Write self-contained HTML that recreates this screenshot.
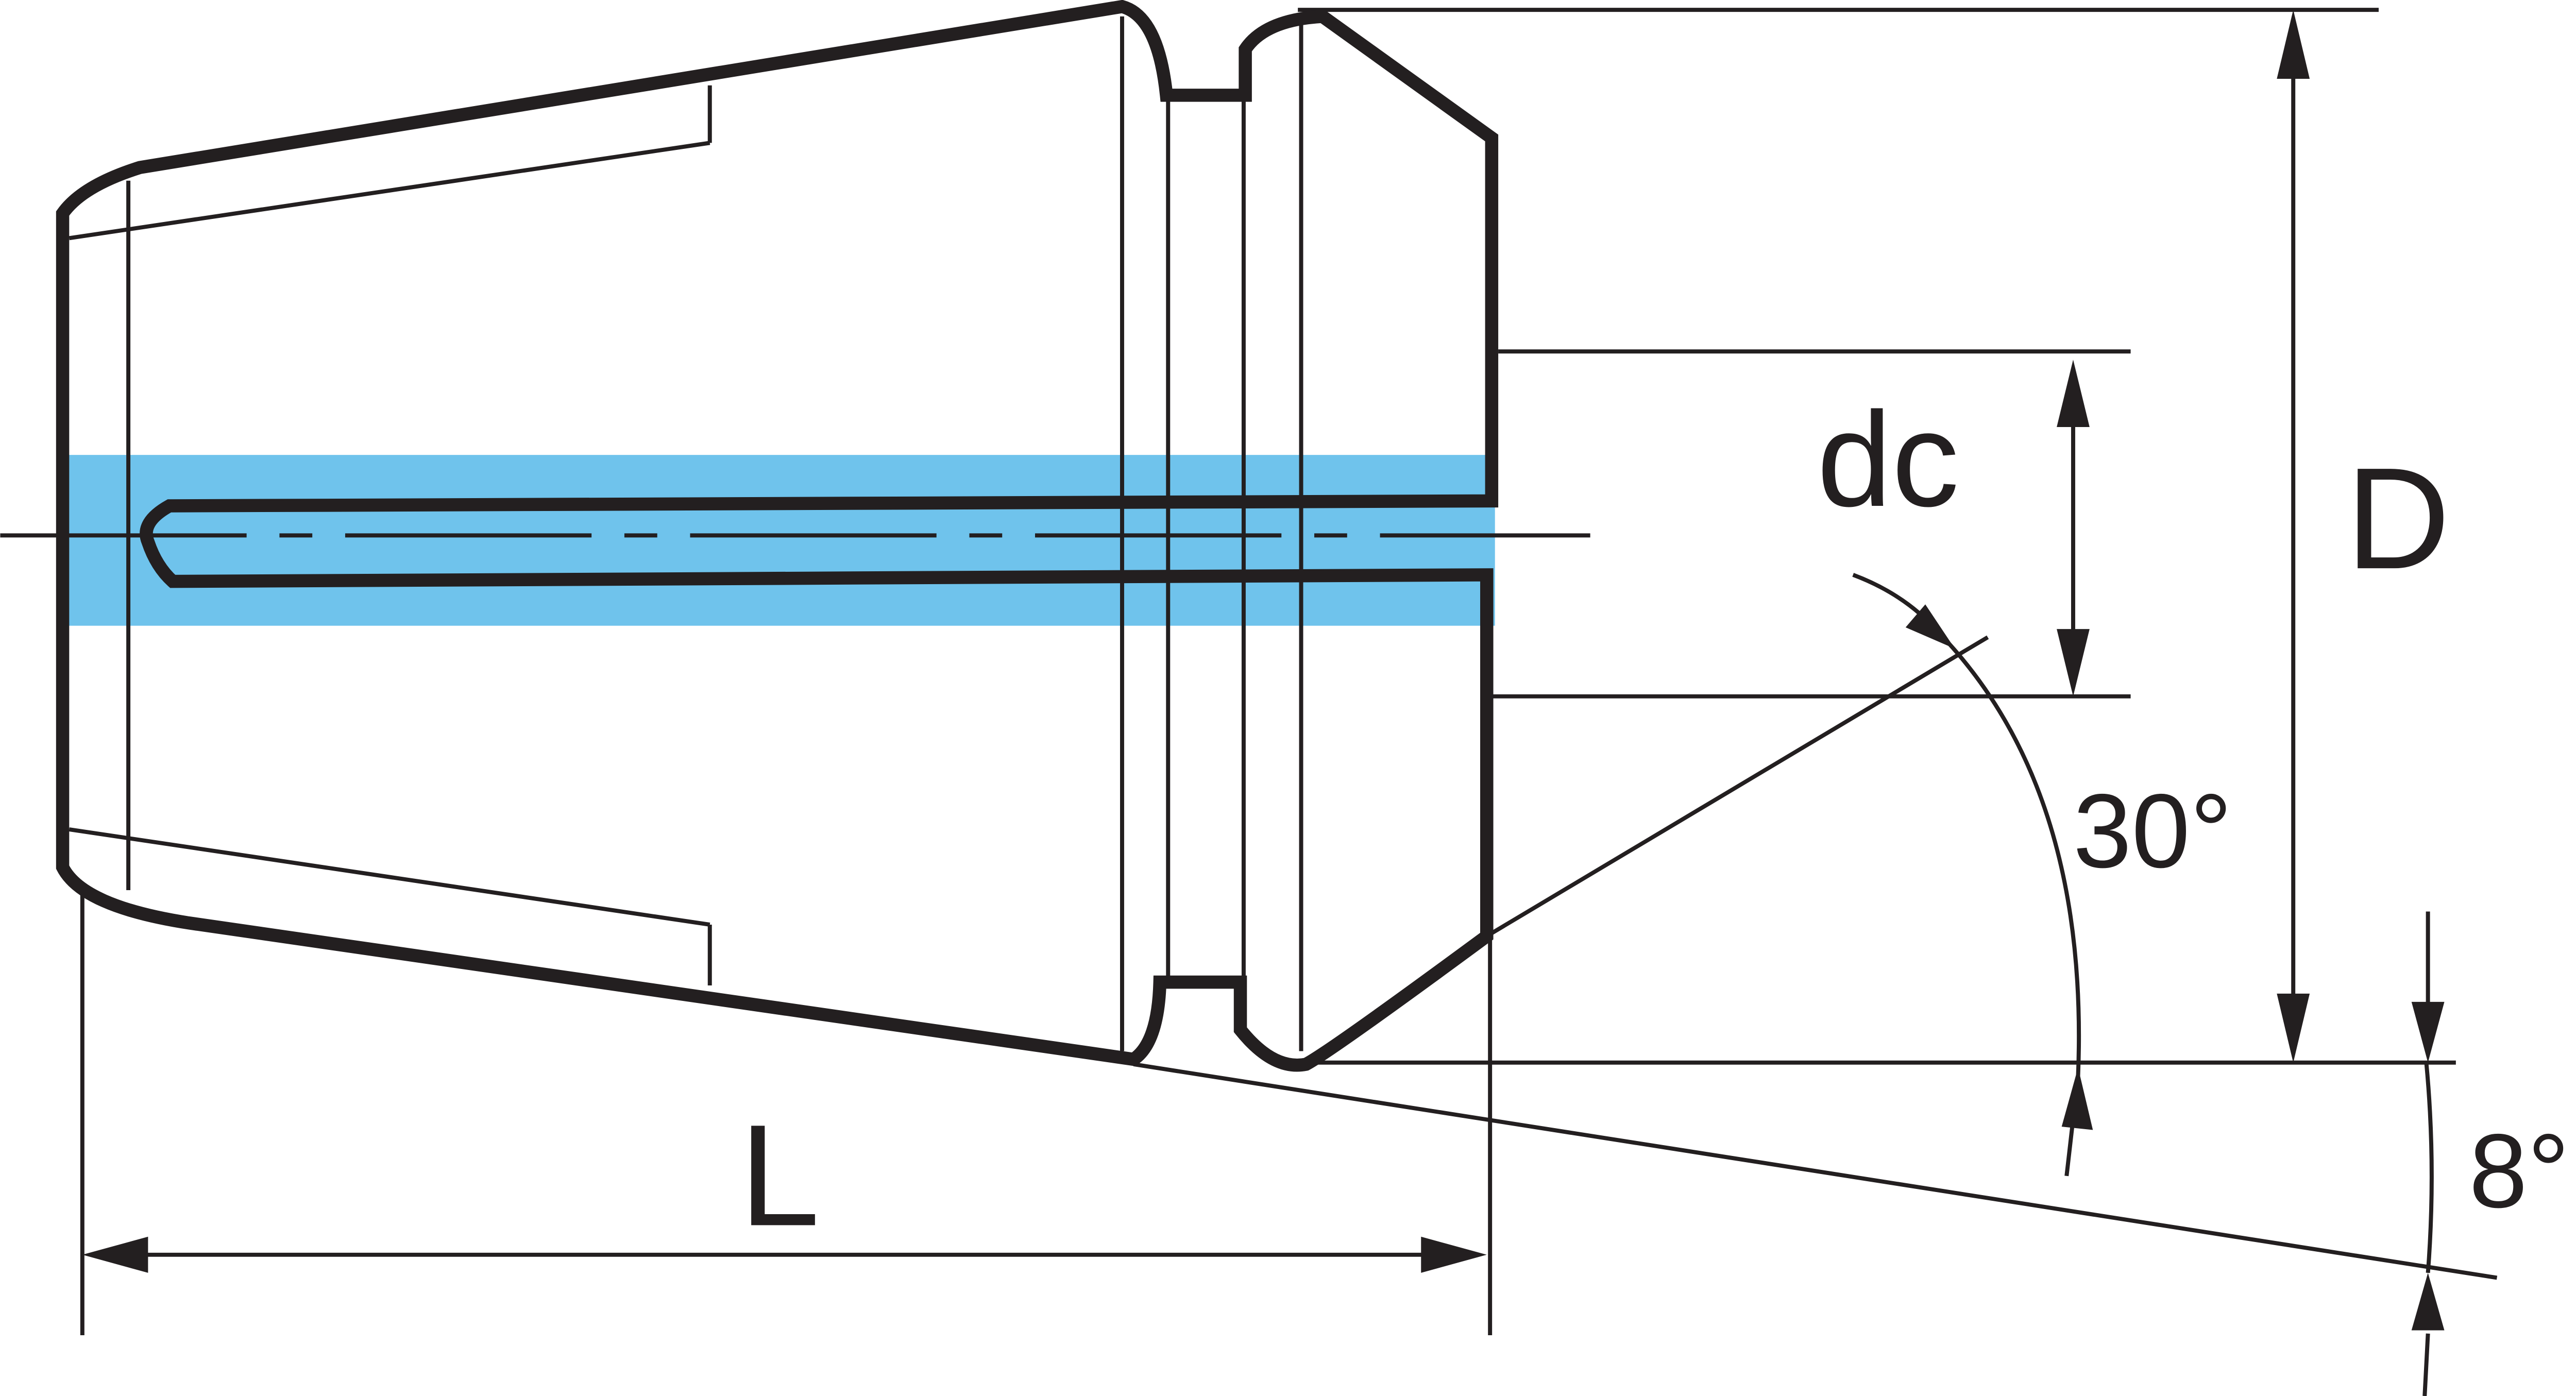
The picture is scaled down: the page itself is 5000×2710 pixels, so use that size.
<!DOCTYPE html>
<html><head><meta charset="utf-8"><style>
html,body{margin:0;padding:0;background:#fff;}
svg{display:block;}
</style></head><body>
<svg width="5000" height="2710" viewBox="0 0 1568 850" xmlns="http://www.w3.org/2000/svg">
<rect width="1568" height="850" fill="#fff"/>
<rect x="38" y="277" width="872" height="104" fill="#6fc3ec"/>
<g stroke="#231f20" stroke-width="2.5" fill="none">
<line x1="42" y1="145" x2="432" y2="87"/>
<line x1="432" y1="52" x2="432" y2="87"/>
<line x1="78" y1="110" x2="78" y2="542"/>
<line x1="42" y1="505" x2="432" y2="563"/>
<line x1="432" y1="563" x2="432" y2="600"/>
<line x1="683" y1="10" x2="683" y2="640"/>
<line x1="711" y1="60" x2="711" y2="595"/>
<line x1="757" y1="60" x2="757" y2="595"/>
<line x1="792" y1="10" x2="792" y2="640"/>
<line x1="790" y1="6" x2="1448" y2="6"/>
<line x1="912" y1="214" x2="1297" y2="214"/>
<line x1="908" y1="424" x2="1297" y2="424"/>
<line x1="800" y1="647" x2="1495" y2="647"/>
<line x1="0" y1="326" x2="968" y2="326" stroke-dasharray="150,20,20,20"/>
<line x1="690" y1="648" x2="1520" y2="778"/>
<line x1="905" y1="570" x2="1210" y2="388"/>
<line x1="907" y1="570" x2="907" y2="813"/>
<line x1="50" y1="540" x2="50" y2="813"/>
<line x1="86" y1="764" x2="866" y2="764"/>
<line x1="1262" y1="258" x2="1262" y2="385"/>
<line x1="1396" y1="46" x2="1396" y2="606"/>
<line x1="1478" y1="555" x2="1478" y2="612"/>
<path d="M1477,647 Q1483,710 1478,775"/>
<path d="M1478,812 L1476,850"/>
<path d="M1128,350 Q1160,362 1180,385 Q1272,480 1265,655 L1258,716"/>
</g>
<path d="M38,525 L38,130 Q50,113 85,102 L683,4 Q705,10 710,58 L758,58 L758,30 Q770,12 805,10 L908,84 L908,305 L103,308 Q85,318 90,330 Q95,345 105,354 L905,350 L905,570 Q810,640 795,648 Q775,652 755,627 L755,598 L706,598 Q705,635 690,645 L115,562 Q50,552 38,528 Z" fill="none" stroke="#231f20" stroke-width="8" stroke-linejoin="miter"/>
<g fill="#231f20">
<polygon points="50,764 90,753 90,775"/>
<polygon points="905,764 865,753 865,775"/>
<polygon points="1262,219 1252,260 1272,260"/>
<polygon points="1262,424 1252,383 1272,383"/>
<polygon points="1396,6 1386,48 1406,48"/>
<polygon points="1396,647 1386,605 1406,605"/>
<polygon points="1478,647 1468,610 1488,610"/>
<polygon points="1478,775 1468,810 1488,810"/>
<polygon points="1190,395 1172,368 1160,382"/>
<polygon points="1265,650 1255,686 1274,688"/>
</g>
<g font-family="Liberation Sans, sans-serif" fill="#231f20">
<text x="1106" y="308" font-size="82">dc</text>
<text x="1428" y="346" font-size="88">D</text>
<text x="450" y="746" font-size="88">L</text>
<text x="1262" y="528" font-size="64">30°</text>
<text x="1503" y="735" font-size="64">8°</text>
</g>
</svg>
</body></html>
